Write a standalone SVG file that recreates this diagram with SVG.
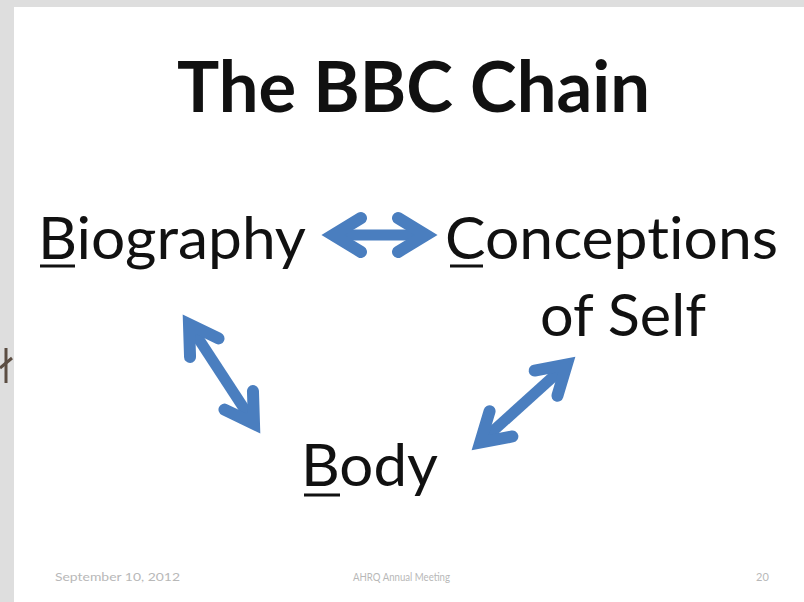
<svg xmlns="http://www.w3.org/2000/svg" xmlns:xlink="http://www.w3.org/1999/xlink" width="804" height="602" viewBox="0 0 804 602">
<style>
.t{font-family:Lato,"Open Sans","Liberation Sans",sans-serif;fill:#111;font-variant-ligatures:none;font-feature-settings:"liga" 0,"dlig" 0;}
.title{font-weight:bold;font-size:70px;}
.lbl{font-size:59px;}
.ul{stroke:#111;stroke-width:3;}
.foot{font-family:Lato,"Liberation Sans",sans-serif;font-size:11px;fill:#b8b8b8;}
.arr{stroke:#4a7ebf;stroke-width:12;fill:none;stroke-linejoin:miter;stroke-miterlimit:10;stroke-linecap:round;}
.shaft{stroke:#4a7ebf;stroke-width:11;fill:none;stroke-linecap:butt;}
</style>
<defs>
<path id="head" class="arr" d="M-28,-17 L0,0 L-28,17"/>
</defs>
<rect x="0" y="0" width="804" height="602" fill="#dedede"/>
<rect x="14" y="7" width="790" height="595" fill="#ffffff"/>
<g id="artifact" stroke="#5b4d42" stroke-width="3">
<line x1="6" y1="348" x2="6" y2="383"/>
<line x1="0" y1="368" x2="12" y2="358"/>
</g>
<g id="title"><text class="t title" x="177" y="112" textLength="473" lengthAdjust="spacingAndGlyphs">The BBC Chain</text></g>
<g id="biography">
<text class="t lbl" x="38" y="259" textLength="268" lengthAdjust="spacingAndGlyphs">Biography</text>
<line class="ul" x1="40" y1="266" x2="75" y2="266"/>
</g>
<g id="conceptions">
<text class="t lbl" x="445" y="259" textLength="333" lengthAdjust="spacingAndGlyphs">Conceptions</text>
<text class="t lbl" x="540" y="336" textLength="166" lengthAdjust="spacingAndGlyphs">of Self</text>
<line class="ul" x1="450" y1="266" x2="483" y2="266"/>
</g>
<g id="body">
<text class="t lbl" x="301" y="486" textLength="137" lengthAdjust="spacingAndGlyphs">Body</text>
<line class="ul" x1="304" y1="495" x2="340" y2="495"/>
</g>
<g id="connectors">
<line class="shaft" x1="333" y1="235" x2="426" y2="235"/>
<use xlink:href="#head" transform="translate(426,235)"/>
<use xlink:href="#head" transform="translate(333,235) rotate(180)"/>
<line class="shaft" x1="189" y1="324.2" x2="254" y2="423.8"/>
<use xlink:href="#head" transform="translate(254,423.8) rotate(56.9)"/>
<use xlink:href="#head" transform="translate(189,324.2) rotate(236.9)"/>
<line class="shaft" x1="566.8" y1="364.4" x2="480.2" y2="442.6"/>
<use xlink:href="#head" transform="translate(566.8,364.4) rotate(-42.1)"/>
<use xlink:href="#head" transform="translate(480.2,442.6) rotate(137.9)"/>
</g>
<g id="footer">
<text class="foot" x="55" y="581" textLength="125" lengthAdjust="spacingAndGlyphs">September 10, 2012</text>
<text class="foot" x="353" y="581" textLength="97" lengthAdjust="spacingAndGlyphs">AHRQ Annual Meeting</text>
<text class="foot" x="756" y="581">20</text>
</g>
</svg>
